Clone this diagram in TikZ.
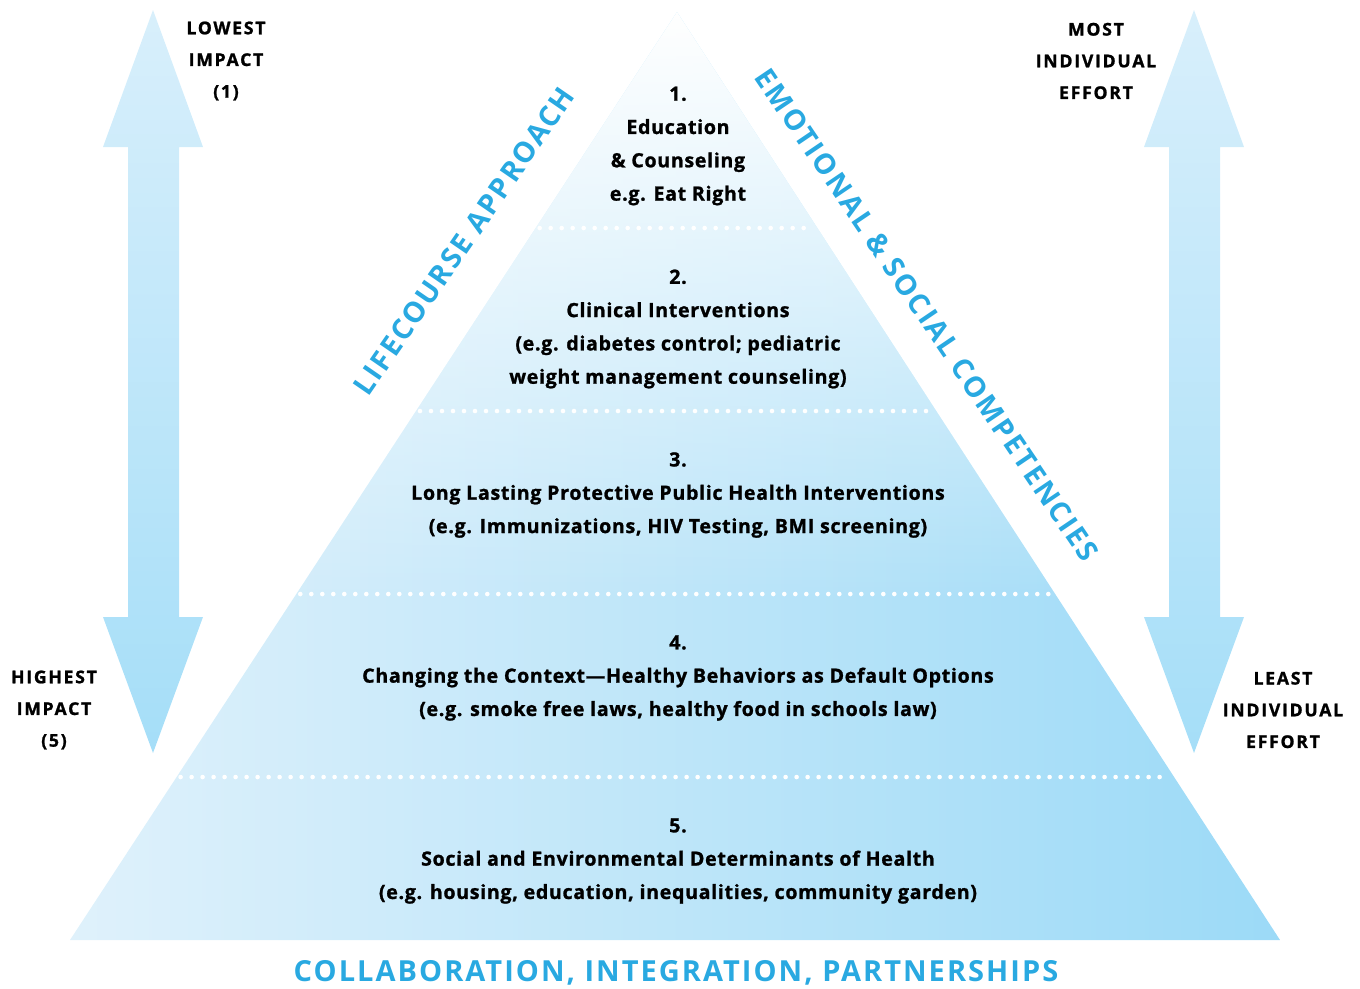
\documentclass[tikz,border=0pt]{standalone}
\usepackage{fontspec}
\setmainfont{Open Sans}[BoldFeatures={FakeBold=1.2}]
\newfontfamily\levelfont[LetterSpace=3.5, BoldFeatures={FakeBold=1.2}]{Open Sans}
\newfontfamily\spacedfont[LetterSpace=10, BoldFeatures={FakeBold=1.2}]{Open Sans}
\newfontfamily\titlefont[LetterSpace=7]{Open Sans}
\usetikzlibrary{fadings,calc}
\definecolor{txtblue}{HTML}{29A9E1}
\definecolor{pyrL}{HTML}{DFF1FB}
\definecolor{pyrR}{HTML}{9CDAF7}
\definecolor{arrT}{HTML}{D8EFFB}
\definecolor{arrB}{HTML}{A5DEF8}
\tikzfading[name=topfade, top color=transparent!0, middle color=transparent!82, bottom color=transparent!100]
\begin{document}
\begin{tikzpicture}[x=1pt,y=-1pt,
  leveltext/.style={align=center, text=black, font=\levelfont\bfseries\fontsize{19.6}{33.3}\selectfont},
  sidetext/.style={align=center, text=black, font=\spacedfont\bfseries\fontsize{17.6}{31.7}\selectfont},
  slanttext/.style={text=txtblue, font=\titlefont\bfseries\fontsize{28.5}{30}\selectfont},
  dotline/.style={white, line width=4.6pt, line cap=round, dash pattern=on 0pt off 11pt},
  arrowfill/.style={top color=arrT, bottom color=arrB, draw=none}]
\useasboundingbox (0,0) rectangle (1360,988);
% pyramid
\coordinate (apex) at (677,12);
\coordinate (bl) at (70,940);
\coordinate (br) at (1280,940);
\shade[left color=pyrL, right color=pyrR] (apex) -- (bl) -- (br) -- cycle;
\begin{scope}
  \clip (apex) -- (bl) -- (br) -- cycle;
  \fill[white, path fading=topfade] (60,12) rectangle (1290,600);
\end{scope}
% dotted separators
\foreach \t/\n in {0.7672/a,0.5700/b,0.3728/c,0.1756/d}{
  \coordinate (l\n) at ($(bl)!\t!(apex)$);
  \coordinate (r\n) at ($(br)!\t!(apex)$);
  \draw[dotline, shorten <=4pt, shorten >=4pt] (l\n) -- (r\n);
}
% double arrows
\path[arrowfill] (153,10) -- (203,147) -- (179,147) -- (179,617) -- (203,617) -- (153,753)
  -- (103,617) -- (128,617) -- (128,147) -- (103,147) -- cycle;
\path[arrowfill] (1194,10) -- (1244,147) -- (1220,147) -- (1220,617) -- (1244,617) -- (1194,753)
  -- (1144,617) -- (1169,617) -- (1169,147) -- (1144,147) -- cycle;
% side labels
\node[sidetext] (lowest) at (226,61) {LOWEST\\IMPACT\\(1)};
\node[sidetext] (highest) at (54,710) {HIGHEST\\IMPACT\\(5)};
\node[sidetext] (most) at (1096,61) {MOST\\INDIVIDUAL\\EFFORT};
\node[sidetext] (least) at (1283,710) {LEAST\\INDIVIDUAL\\EFFORT};
% level texts
\node[leveltext] (lev1) at (678,146) {1.\\Education\\\&~Counseling\\e.g. Eat Right};
\node[leveltext] (lev2) at (678,329) {2.\\Clinical Interventions\\(e.g. diabetes control; pediatric\\weight management counseling)};
\node[leveltext] (lev3) at (678,495) {3.\\Long Lasting Protective Public Health Interventions\\(e.g. Immunizations, HIV Testing, BMI screening)};
\node[leveltext] (lev4) at (678,678) {4.\\Changing the Context—Healthy Behaviors as Default Options\\(e.g. smoke free laws, healthy food in schools law)};
\node[leveltext] (lev5) at (678,861) {5.\\Social and Environmental Determinants of Health\\(e.g. housing, education, inequalities, community garden)};
% slanted labels
\node[slanttext, rotate=55.4] (life) at (464,241) {LIFECOURSE APPROACH};
\node[slanttext, rotate=-55.9] (emo) at (927,315) {EMOTIONAL \& SOCIAL COMPETENCIES};
% bottom title
\node[text=txtblue, font=\titlefont\bfseries\fontsize{29}{32}\selectfont] (collab) at (676,973) {COLLABORATION, INTEGRATION, PARTNERSHIPS};
\end{tikzpicture}
\end{document}
